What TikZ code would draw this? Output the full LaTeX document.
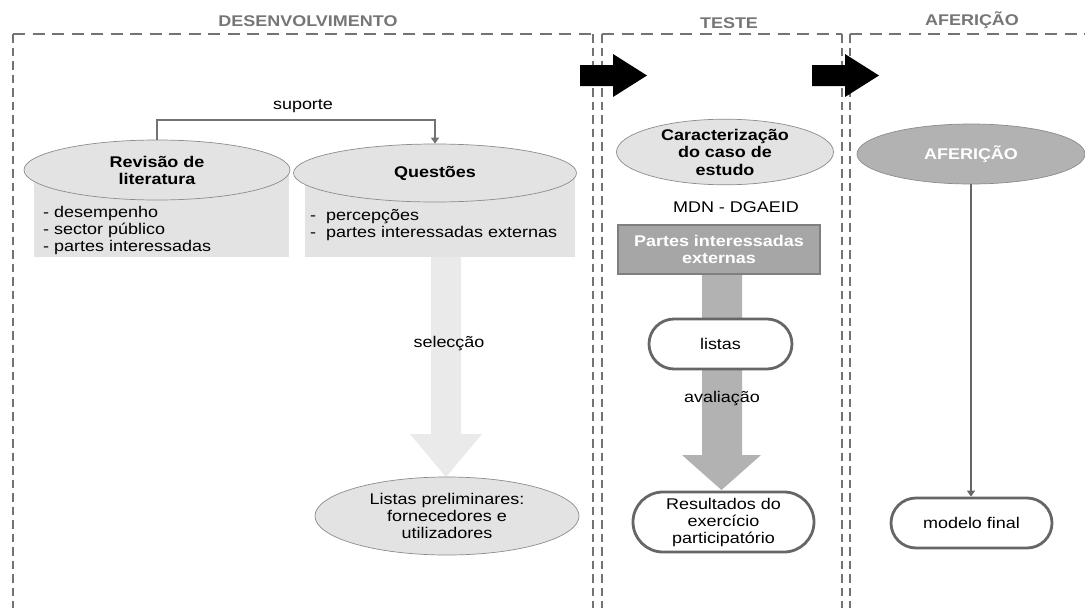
\documentclass[tikz,border=0pt]{standalone}
\usepackage{fontspec}
\setmainfont{Liberation Sans}[FakeStretch=1.16]
\usetikzlibrary{shapes.geometric,arrows.meta}
\definecolor{boxgray}{HTML}{737373}
\definecolor{titlegray}{HTML}{767676}
\definecolor{ellfill}{HTML}{E3E3E3}
\definecolor{ellline}{HTML}{8C8C8C}
\definecolor{arrowlight}{HTML}{EAEAEA}
\definecolor{darkfill}{HTML}{B2B2B2}
\definecolor{rectfill}{HTML}{A6A6A6}
\definecolor{rectline}{HTML}{7F7F7F}
\definecolor{stadline}{HTML}{666666}
\begin{document}
\begin{tikzpicture}[x=1pt,y=-1pt,
  txt/.style={font=\fontsize{15.5}{17}\selectfont, align=center, inner sep=0},
  boldtxt/.style={font=\bfseries\fontsize{15.5}{17}\selectfont, align=center},
  title/.style={font=\bfseries\fontsize{15.5}{17}\selectfont, text=titlegray, inner sep=0},
  hdash/.style={draw=boxgray, line width=2.9pt, dash pattern=on 12pt off 7.5pt},
  vdash/.style={draw=boxgray, line width=2.8pt, dash pattern=on 8.5pt off 5pt},
  lightell/.style={ellipse, draw=ellline, line width=0.7pt, fill=ellfill, inner sep=0, align=center, font=\fontsize{15.5}{17}\selectfont},
  backrect/.style={fill=ellfill, inner sep=0, anchor=north west},
  stadium/.style={draw=stadline, line width=2.8pt, fill=white, inner sep=0, align=center, font=\fontsize{15.5}{17}\selectfont},
  conn/.style={draw=boxgray, line width=2.2pt, -{Triangle[length=6pt,width=8pt]}},
  aline/.style={draw=stadline, line width=2.5pt, -{Triangle[length=6pt,width=8pt]}}
]
\useasboundingbox (0,0) rectangle (1085,608);
\clip (0,0) rectangle (1085,608);
\fill[white] (0,0) rectangle (1085,608);

% titles
\node[title] (tdes) at (308,21) {DESENVOLVIMENTO};
\node[title] (ttes) at (729,23) {TESTE};
\node[title] (tafe) at (972,20) {AFERIÇÃO};

% dashed frames
\draw[hdash] (13,34) -- (593,34);
\draw[vdash] (13,34) -- (13,620);
\draw[vdash] (593,34) -- (593,620);
\draw[hdash] (602,34) -- (842,34);
\draw[vdash] (602,34) -- (602,620);
\draw[vdash] (842,34) -- (842,620);
\draw[hdash] (850,34) -- (1100,34);
\draw[vdash] (850,34) -- (850,620);

% black arrows
\fill[black] (580,65) -- (613,65) -- (613,54) -- (647,75.5) -- (613,97) -- (613,86) -- (580,86) -- cycle;
\fill[black] (812,65) -- (845,65) -- (845,54) -- (879,75.5) -- (845,97) -- (845,86) -- (812,86) -- cycle;

% DESENVOLVIMENTO column
\node[backrect, minimum width=255, minimum height=87] (rl) at (34,170) {};
\node[backrect, minimum width=270, minimum height=87] (rq) at (305,170) {};
\fill[arrowlight] (431,257) -- (461,257) -- (461,434) -- (482,434) -- (446,477) -- (410,434) -- (431,434) -- cycle;

\node[lightell, font=\bfseries\fontsize{15.5}{17}\selectfont, minimum width=266, minimum height=60] (rev) at (157,170) {Revisão de\\literatura};
\node[lightell, font=\bfseries\fontsize{15.5}{17}\selectfont, minimum width=283, minimum height=58] (que) at (435,173) {Questões};
\draw[conn] (rev.north) -- ++(0,-20) -| (que.north);
\node[txt] (sup) at (303,106) {suporte};

\node[txt, align=left, anchor=west] (ll) at (43,230) {- desempenho\\- sector público\\- partes interessadas};
\node[txt, align=left, anchor=west] (lq) at (310,225) {-\ \ percepções\\-\ \ partes interessadas externas};

\node[txt] (sel) at (449,344) {selecção};
\node[lightell, minimum width=264, minimum height=78] (lis) at (447,516) {Listas preliminares:\\fornecedores e\\utilizadores};

% TESTE column
\node[lightell, font=\bfseries\fontsize{15.5}{17.5}\selectfont, minimum width=217, minimum height=56] (car) at (725,152) {Caracterização\\do caso de\\estudo};
\node[txt] (mdn) at (736,207) {MDN - DGAEID};
\fill[darkfill] (702,262) -- (742,262) -- (742,455) -- (761,455) -- (721.5,490) -- (682,455) -- (702,455) -- cycle;
\node[fill=rectfill, draw=rectline, line width=2.5pt, minimum width=202, minimum height=49, inner sep=0, boldtxt, text=white] (par) at (719,249.5) {Partes interessadas\\externas};
\node[stadium, minimum width=143, minimum height=50, rounded corners=25pt] (lst) at (720.5,344) {listas};
\node[txt] (ava) at (722,399) {avaliação};
\node[stadium, minimum width=181, minimum height=60, rounded corners=30pt] (res) at (723.5,522) {Resultados do\\exercício\\participatório};

% AFERICAO column
\node[ellipse, draw=ellline, line width=0.7pt, fill=darkfill, inner sep=0, minimum width=228, minimum height=60, boldtxt, text=white] (afe) at (971,154) {AFERIÇÃO};
\node[stadium, minimum width=161, minimum height=50, rounded corners=25pt] (mod) at (971.5,523) {modelo final};
\draw[aline] (afe.south) -- (afe.south |- mod.north);
\end{tikzpicture}
\end{document}
